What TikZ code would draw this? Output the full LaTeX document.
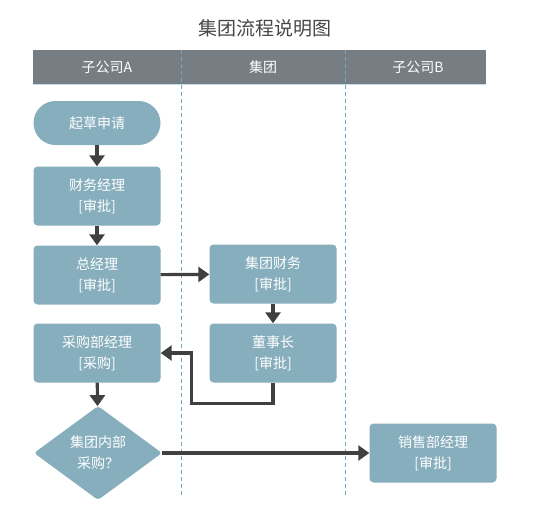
\documentclass[tikz,border=0pt]{standalone}
\usepackage{fontspec}
\setmainfont{Noto Sans CJK SC}
\usetikzlibrary{arrows.meta}
\usetikzlibrary{shapes.geometric}
\usetikzlibrary{positioning}
\definecolor{mbox}{RGB}{134,174,189}
\definecolor{mhead}{RGB}{118,126,131}
\definecolor{marrow}{RGB}{64,64,64}
\definecolor{mdash}{RGB}{110,170,200}
\definecolor{mtitle}{RGB}{70,70,70}
\tikzset{proc/.style = {fill=mbox, rounded corners=4, minimum width=127, minimum height=59, inner sep=2,
    text=white, align=center, font=\fontsize{14}{21}\selectfont}}
\tikzset{startbox/.style = {proc, rounded corners=22, minimum height=44}}
\tikzset{decide/.style = {proc, diamond, aspect=1.36, minimum width=128, minimum height=94, rounded corners=3}}
\tikzset{flow/.style = {draw=marrow, line width=3.2, -{Triangle[length=11, width=15]}}}
\tikzset{lane/.style = {mdash, dash pattern=on 4pt off 3pt, line width=0.9}}
\tikzset{headtext/.style = {text=white, font=\fontsize{14}{16}\selectfont}}

\begin{document}
\begin{tikzpicture}[x=1pt, y=-1pt]
      \useasboundingbox (0, 0) rectangle (534, 520);
      \node [text=mtitle, font=\fontsize{19}{22}\selectfont] (title) at (265, 28) {集团流程说明图};
      % lanes
      \fill [mhead] (33, 50) rectangle (486, 84);
      \draw [mdash!40, line width=0.8] (33, 84) -- (486, 84);
      \foreach \x in {181, 345} {
        \draw [lane] (\x, 50) -- (\x, 496);
      }
      \node [headtext] (la) at (107, 67) {子公司A};
      \node [headtext] (lb) at (263, 67) {集团};
      \node [headtext] (lc) at (418, 67) {子公司B};
      % nodes
      \node [startbox] (qc) at (97, 123) {起草申请};
      \node [proc] (cw) at (97, 196) {财务经理\\{}[审批]};
      \node [proc] (zj) at (97, 275) {总经理\\{}[审批]};
      \node [proc] (cg) at (97, 353) {采购部经理\\{}[采购]};
      \node [decide] (nb) at (98, 453) {集团内部\\采购？};
      \node [proc] (jt) at (273, 274) {集团财务\\{}[审批]};
      \node [proc] (ds) at (273, 353) {董事长\\{}[审批]};
      \node [proc] (xs) at (433, 453) {销售部经理\\{}[审批]};
      % arrows
      \draw [flow] (qc) -- (cw);
      \draw [flow] (cw) -- (zj);
      \draw [flow] (zj) -- (jt);
      \draw [flow] (jt) -- (ds);
      \draw [flow] (ds.south) -- ++(0, 21) -| ([xshift=31]cg.east) -- (cg.east);
      \draw [flow] (cg) -- (nb);
      \draw [flow] (nb) -- (xs);
    \end{tikzpicture}
\end{document}
